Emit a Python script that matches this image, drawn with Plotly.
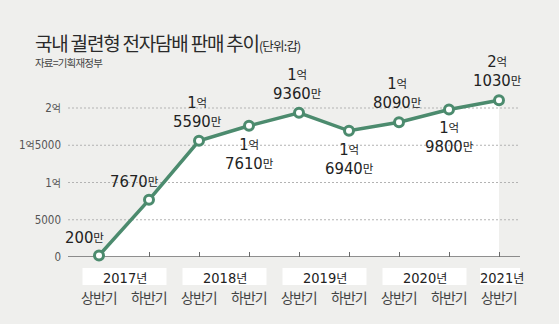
import plotly.graph_objects as go

# 반기별 궐련형 전자담배 판매량 (단위: 만 갑)
halves = ["상반기", "하반기", "상반기", "하반기", "상반기", "하반기", "상반기", "하반기", "상반기"]
years = ["2017년", "2018년", "2019년", "2020년", "2021년"]
period_year = [0, 0, 1, 1, 2, 2, 3, 3, 4]
sales_man = [200, 7670, 15590, 17610, 19360, 16940, 18090, 19800, 21030]

y_ticks = [0, 5000, 10000, 15000, 20000]
y_tick_text = ["0", "5000", "1억", "1억5000", "2억"]

# label side for each point
label_side = ["upleft", "upleft", "up", "down", "up", "down", "up", "down", "up"]

GREEN = "#4c8b6e"
BG = "#efefed"
NUM_FONT = "'DejaVu Sans Condensed', 'Noto Sans CJK KR', sans-serif"
KR_FONT = "'Noto Sans CJK KR', sans-serif"

# plot area in pixels
W, H = 559, 324
ML, MR, MT, MB = 68, 39, 78, 67
PW, PH = W - ML - MR, H - MT - MB
X_STEP = 50.0          # px between half-years
X0_PX = 99.0           # px of first point
Y_PER_UNIT = 149.0 / 20000.0

x_idx = list(range(len(sales_man)))
x_range = [(ML - X0_PX) / X_STEP, (W - MR - X0_PX) / X_STEP]
y_range = [0, PH / Y_PER_UNIT]


def px_x(px):
    return (px - ML) / PW


def px_y(py):
    return (H - MB - py) / PH


def big(s):
    return f"<span style='font-size:16.5px'>{s}</span>"


def small(s):
    return (f"<span style='font-family:Noto Sans CJK KR;font-size:11.5px;"
            f"letter-spacing:-0.5px;baseline-shift:1.5px'>{s}</span>")


def value_label(v):
    eok, man = divmod(v, 10000)
    line = big(man) + small("만")
    if eok:
        return big(eok) + small("억") + "<br>" + line
    return line


def tick_label(t):
    return t.replace("억", "<span style='font-family:Noto Sans CJK KR;font-size:10px'>억</span>")


fig = go.Figure()

# white area under the line
fig.add_trace(go.Scatter(x=x_idx, y=sales_man, fill="tozeroy", fillcolor="white",
                         mode="none", hoverinfo="skip", showlegend=False))

# dotted grid lines on top of the white area
for v in y_ticks[1:]:
    fig.add_trace(go.Scatter(x=x_range, y=[v, v], mode="lines",
                             line=dict(color="#b3b3b3", width=1, dash="2px,2px"),
                             hoverinfo="skip", showlegend=False, cliponaxis=False))
# baseline
fig.add_trace(go.Scatter(x=[x_range[0], x_range[1]], y=[0, 0], mode="lines",
                         line=dict(color="#6a6a6a", width=1.5),
                         hoverinfo="skip", showlegend=False, cliponaxis=False))

# sales line
fig.add_trace(go.Scatter(x=x_idx, y=sales_man, mode="lines+markers",
                         line=dict(color=GREEN, width=3.5),
                         marker=dict(size=9, color="white", line=dict(color=GREEN, width=3)),
                         cliponaxis=False, showlegend=False))

annotations = []
offsets = {"upleft": (-15, 18), "up": (-2, 29), "down": (0, -28)}
for i, v in enumerate(sales_man):
    dx, dy = offsets[label_side[i]]
    annotations.append(dict(x=i, y=v, xref="x", yref="y", text=value_label(v),
                            showarrow=False, xanchor="center", yanchor="middle",
                            xshift=dx, yshift=dy,
                            font=dict(family=NUM_FONT, size=14.5, color="#222")))

# half-year labels
for i, h in enumerate(halves):
    annotations.append(dict(x=i, y=px_y(297), xref="x", yref="paper",
                            text=f"<span style='letter-spacing:-1px'>{h}</span>",
                            showarrow=False, xanchor="center", yanchor="middle",
                            font=dict(family=KR_FONT, size=14, color="#444")))

# year boxes and labels
shapes = []
for k, yr in enumerate(years):
    members = [i for i, p in enumerate(period_year) if p == k]
    if len(members) > 1:
        x_left, x_right = members[0] - 0.33, members[-1] + 0.35
    else:
        x_left, x_right = members[0] - 0.38, members[0] + 0.48
    shapes.append(dict(type="rect", xref="x", yref="paper",
                       x0=x_left, x1=x_right, y0=px_y(285), y1=px_y(268),
                       fillcolor="white", line=dict(width=0), layer="above"))
    annotations.append(dict(x=(x_left + x_right) / 2, y=px_y(277), xref="x", yref="paper",
                            text=f"<span style='font-size:14.5px'>{yr[:-1]}</span>"
                                 f"<span style='font-family:Noto Sans CJK KR;font-size:12px;"
                                 f"letter-spacing:-0.5px'>{yr[-1]}</span>",
                            showarrow=False, xanchor="center", yanchor="middle",
                            font=dict(family=NUM_FONT, size=14.5, color="#222")))

# title and source
annotations.append(dict(x=px_x(33), y=px_y(42), xref="paper", yref="paper",
                        text="<span style='letter-spacing:-1.2px'>국내 궐련형 전자담배 판매 추이</span>"
                             "<span style='font-size:12.5px;letter-spacing:-0.8px'>(단위:갑)</span>",
                        showarrow=False, xanchor="left", yanchor="middle",
                        font=dict(family=KR_FONT, size=19, color="#2a2a2a")))
annotations.append(dict(x=px_x(33), y=px_y(63), xref="paper", yref="paper",
                        text="<span style='letter-spacing:-0.8px'>자료=기획재정부</span>",
                        showarrow=False, xanchor="left", yanchor="middle",
                        font=dict(family=KR_FONT, size=10.5, color="#444")))

fig.update_layout(
    width=W, height=H,
    margin=dict(l=ML, r=MR, t=MT, b=MB, pad=0),
    paper_bgcolor=BG, plot_bgcolor=BG,
    showlegend=False,
    annotations=annotations,
    shapes=shapes,
    xaxis=dict(range=x_range, showgrid=False, zeroline=False, showline=False,
               tickvals=list(range(1, len(sales_man))), ticks="inside", ticklen=5,
               tickcolor="#6a6a6a", tickwidth=1, showticklabels=False,
               layer="above traces", fixedrange=True),
    yaxis=dict(range=y_range, showgrid=False, zeroline=False, showline=False,
               tickvals=y_ticks, ticktext=[tick_label(t) for t in y_tick_text], ticks="",
               ticklabelstandoff=6,
               tickfont=dict(family=NUM_FONT, size=11.5, color="#555"), fixedrange=True),
)

fig.write_html("out.html")
